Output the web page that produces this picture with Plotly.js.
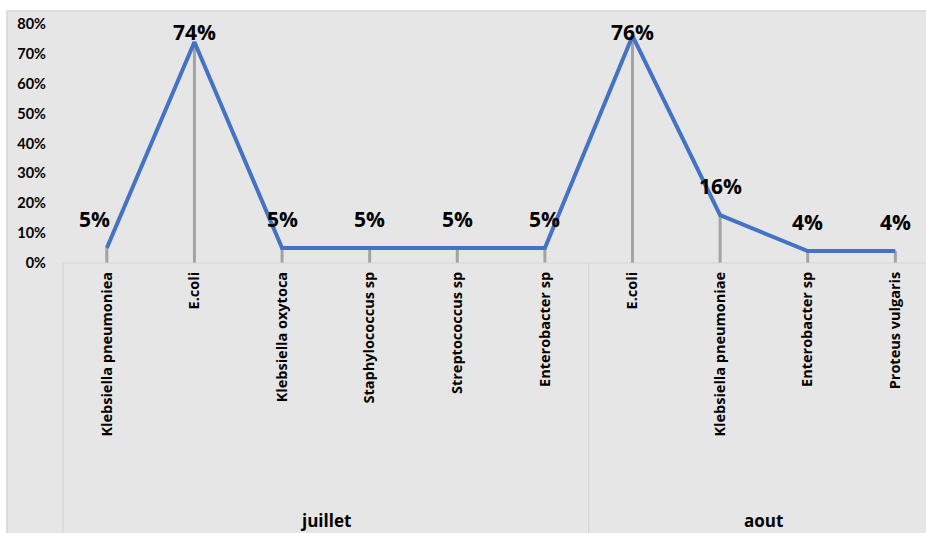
<!DOCTYPE html>
<html>
<head>
<meta charset="utf-8">
<script src="https://cdn.plot.ly/plotly-3.0.1.min.js"></script>
<style>
  html, body { margin: 0; padding: 0; background: #ffffff; }
  #chart { width: 926px; height: 533px; }
</style>
</head>
<body>
<div id="chart"></div>
<script>
// Species isolated per month (share of isolates)
const categories = [
  'Klebsiella pneumoniea', 'E.coli', 'Klebsiella oxytoca', 'Staphylococcus sp',
  'Streptococcus sp', 'Enterobacter sp',
  'E.coli', 'Klebsiella pneumoniae', 'Enterobacter sp', 'Proteus vulgaris'
];
const shares = [0.05, 0.74, 0.05, 0.05, 0.05, 0.05, 0.76, 0.16, 0.04, 0.04];
const months = ['juillet', 'aout'];
const monthSizes = [6, 4];
const yTickValues = [0, 0.1, 0.2, 0.3, 0.4, 0.5, 0.6, 0.7, 0.8];

const W = 926, H = 533;
const M = { l: 63, r: 0, t: 24, b: 270 };
const plotH = H - M.t - M.b;
const yMax = 0.8;
const xs = categories.map((_, i) => i);

const SANS = '"Open Sans", Lato, sans-serif';
const TICKFONT = 'Lato, "Open Sans", sans-serif';
const BG = '#e7e6e6';
const EDGE = '#d6d6d6';

// vertical drop lines from each point to the axis
const dropX = [], dropY = [];
xs.forEach((x, i) => { dropX.push(x, x, null); dropY.push(0, shares[i], null); });

const drops = {
  x: dropX, y: dropY, type: 'scatter', mode: 'lines',
  line: { color: '#a3a3a3', width: 3 },
  hoverinfo: 'skip', showlegend: false, cliponaxis: false
};
const series = {
  x: xs, y: shares, type: 'scatter', mode: 'lines',
  line: { color: '#4472c4', width: 4 },
  showlegend: false, cliponaxis: false
};

// value labels above each point, kept inside the plot top
const labels = shares.map((v, i) => {
  const py = plotH - v / yMax * plotH;          // pixel offset from plot top
  const centre = Math.max(py - 29, 8);
  return {
    x: xs[i], y: v, xref: 'x', yref: 'y',
    text: Math.round(v * 100) + '%',
    showarrow: false, xanchor: 'center', yanchor: 'middle',
    yshift: py - centre, xshift: i === 0 ? -12 : 0,
    font: { family: SANS, size: 21, color: '#000', weight: 'bold' }
  };
});

// month group labels and dividers
const groupNotes = [], groupShapes = [];
let start = 0;
months.forEach((m, k) => {
  const end = start + monthSizes[k];
  groupNotes.push({
    x: (start + end - 1) / 2,
    y: -M.b / plotH, xref: 'x', yref: 'paper', yanchor: 'bottom',
    yshift: -1,
    text: m, showarrow: false,
    font: { family: SANS, size: 17, color: '#000', weight: 'bold' }
  });
  if (k > 0) {
    groupShapes.push({
      type: 'line', xref: 'x', yref: 'paper',
      x0: start - 0.5, x1: start - 0.5, y0: 0, y1: -M.b / plotH - 0.05,
      line: { color: EDGE, width: 1.2 }
    });
  }
  start = end;
});

const layout = {
  width: W, height: H,
  margin: M,
  paper_bgcolor: '#ffffff',
  plot_bgcolor: 'rgba(0,0,0,0)',
  font: { family: SANS, color: '#000' },
  xaxis: {
    range: [-0.5, 9.35],
    tickmode: 'array', tickvals: xs, ticktext: categories,
    tickangle: -90, ticks: '', showgrid: false, zeroline: false, showline: false,
    ticklabelstandoff: 5,
    tickfont: { family: SANS, size: 14.5, color: '#000', weight: 'bold' },
    fixedrange: true
  },
  yaxis: {
    range: [0, yMax],
    tickmode: 'array', tickvals: yTickValues, tickformat: '.0%',
    ticks: '', showgrid: false, zeroline: false, showline: false,
    ticklabelstandoff: 16,
    tickfont: { family: TICKFONT, size: 14.5, color: '#000', weight: 'bold' },
    fixedrange: true
  },
  shapes: [
    // chart area fill
    { type: 'rect', xref: 'paper', yref: 'paper', layer: 'below',
      x0: (7 - M.l) / (W - M.l - M.r), x1: 1.01,
      y0: -(M.b + 5) / plotH, y1: (plotH + M.t - 11) / plotH,
      fillcolor: BG, line: { color: EDGE, width: 1.5 } },
    // category box around the axis labels
    { type: 'line', xref: 'paper', yref: 'paper', x0: 0, x1: 1.01, y0: 0, y1: 0,
      line: { color: EDGE, width: 1.2 } },
    { type: 'line', xref: 'paper', yref: 'paper', x0: 0, x1: 0, y0: 0, y1: -M.b / plotH - 0.05,
      line: { color: EDGE, width: 1.2 } },
    ...groupShapes
  ],
  annotations: [...labels, ...groupNotes]
};

Plotly.newPlot('chart', [drops, series], layout, { displayModeBar: false, staticPlot: true });
</script>
</body>
</html>
